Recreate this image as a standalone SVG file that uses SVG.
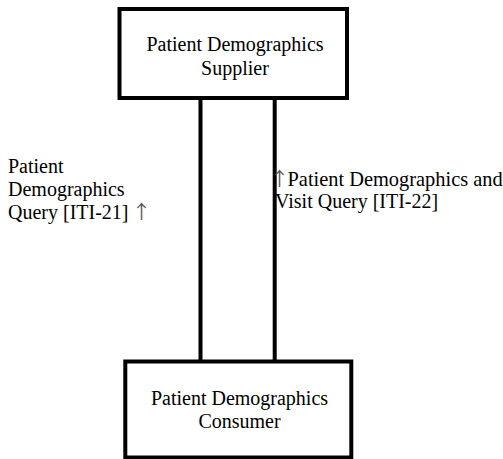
<svg xmlns="http://www.w3.org/2000/svg" width="503" height="459" viewBox="0 0 503 459">
<style>
.box{fill:#fff;stroke:#000;stroke-width:4}
.conn{stroke:#000;stroke-width:4;fill:none}
text{font-family:"Liberation Serif","Times New Roman",serif;font-size:20px;fill:#000}
.c{text-anchor:middle}
.arr{font-family:"Noto Sans CJK SC","DejaVu Sans",sans-serif;font-size:19px;fill:#555}
</style>
<rect width="503" height="459" fill="#fff"/>
<g id="connectors">
<line class="conn" x1="200.5" y1="98" x2="200.5" y2="361.5"/>
<line class="conn" x1="274.7" y1="98" x2="274.7" y2="361.5"/>
</g>
<g id="supplier">
<rect class="box" x="119.5" y="9" width="227.5" height="89"/>
<text class="c" x="235" y="51">Patient Demographics</text>
<text class="c" x="235" y="75">Supplier</text>
</g>
<g id="consumer">
<rect class="box" x="125.3" y="361.5" width="226" height="96"/>
<text class="c" x="239.5" y="405">Patient Demographics</text>
<text class="c" x="239.5" y="428">Consumer</text>
</g>
<g id="label-iti21">
<text x="8" y="173">Patient</text>
<text x="8" y="196">Demographics</text>
<text x="8" y="219">Query [ITI-21] <tspan class="arr" x="132">↑</tspan></text>
</g>
<g id="label-iti22">
<text x="270" y="186"><tspan class="arr">↑</tspan><tspan x="287.5" style="font-size:20.4px">Patient Demographics and</tspan></text>
<text x="275" y="208">Visit Query [ITI-22]</text>
</g>
</svg>
